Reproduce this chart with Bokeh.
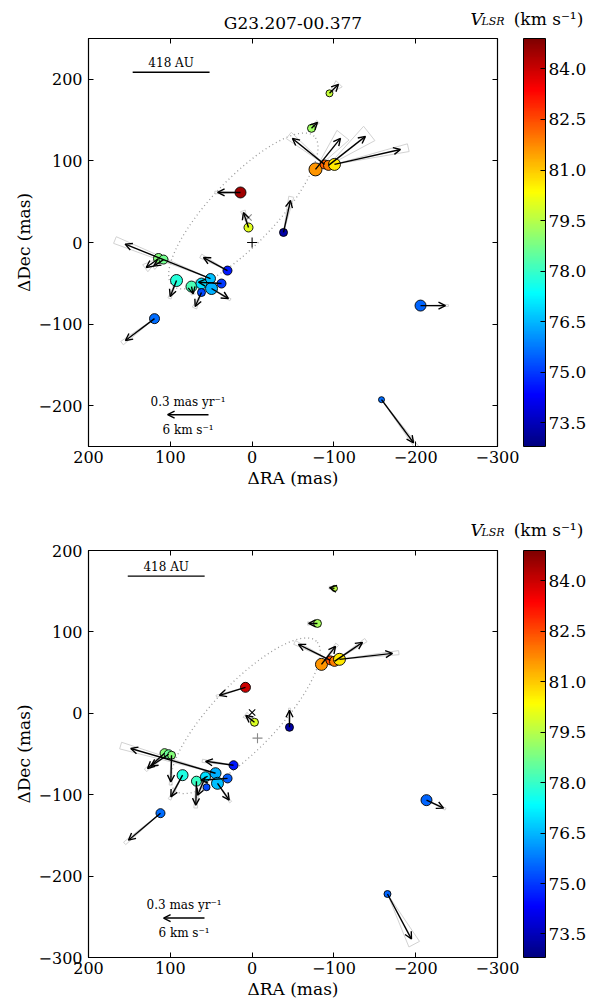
import numpy as np
from bokeh.plotting import figure
from bokeh.models import (ColumnDataSource, LinearColorMapper, ColorBar, FixedTicker,
                          LinearAxis, Arrow, OpenHead, Label, Range1d, PrintfTickFormatter)
from bokeh.layouts import column
from bokeh.transform import transform
from bokeh.embed import file_html
from bokeh.resources import INLINE

FONT = "DejaVu Serif"
TITLE = "G23.207-00.377"
VMIN, VMAX = 72.8, 84.9
CBAR_TICKS = [73.5, 75.0, 76.5, 78.0, 79.5, 81.0, 82.5, 84.0]
X_TICKS = [200, 100, 0, -100, -200, -300]
TOP_Y_TICKS = [200, 100, 0, -100, -200]
BOT_Y_TICKS = [200, 100, 0, -100, -200, -300]
PM_REF = 0.3           # mas/yr of the reference arrow
PM_REF_KMS = 6         # km/s equivalent
PM_SCALE = 50.0 / 0.3  # plot mas per (mas/yr)

# ---------------- top panel (epoch 1) ----------------
top_ra = [14.2, 4.4, -38.4, -94.6, -72.6, -77.5, -88.5, -93.4, -100.7, 114.4, 108.3,
          92.4, 74.1, 61.9, 50.9, 49.6, 37.4, 61.9, 30.1, 119.3, -205.9, -158.2]
top_dec = [61.3, 18.4, 12.3, 182.8, 139.9, 89.6, 95.7, 94.5, 95.7, -19.6, -20.9,
           -46.6, -54.0, -50.3, -44.2, -56.4, -50.3, -61.3, -34.4, -93.3, -77.3, -192.6]
top_vlsr = [84.5, 80.0, 73.3, 79.7, 79.2, 81.6, 82.3, 81.9, 80.6, 78.9, 78.7,
            77.8, 78.2, 77.0, 76.6, 76.4, 75.0, 75.2, 74.6, 75.6, 75.5, 75.6]
top_flux = [2.4, 1.6, 1.2, 0.8, 1.2, 3.2, 1.6, 2.0, 2.8, 2.0, 1.6,
            2.8, 2.4, 2.4, 2.0, 2.8, 1.6, 1.2, 1.6, 2.0, 2.4, 0.4]
top_pmra = [0.168, 0.037, -0.051, -0.066, -0.044, -0.183, 0.235, -0.271, -0.484, 0.090, 0.072,
            0.046, -0.012, None, 0.626, -0.124, 0.169, 0.046, 0.176, 0.213, -0.183, -0.235]
top_pmdec = [0.000, 0.110, 0.235, 0.066, 0.044, 0.228, 0.191, 0.213, 0.110, -0.066, -0.048,
             -0.118, -0.054, None, 0.253, -0.074, 0.010, -0.103, 0.096, -0.161, 0.000, -0.317]
top_pmerr = [3, 8, 4, 18, 12, 10, 5, 10, 3, 15, 15,
             5, 15, None, 2, 3, 5, 8, 4, 3, 2, 2]
top_ring = dict(ra=10.7, dec=38.6, a=126.0, b=40.0, pa=-43.4)
top_plus = (0.0, 0.0)
top_cross = (4.4, 30.7)

# ---------------- bottom panel (epoch 2) ----------------
bot_ra = [8.1, -2.9, -45.7, -100.7, -79.9, -84.8, -95.8, -100.7, -106.8, 107.0, 102.0, 98.5,
          85.0, 68.0, 57.0, 44.7, 42.3, 30.0, 55.7, 22.7, 112.0, -213.2, -165.5]
bot_dec = [31.9, -11.0, -17.2, 153.4, 110.4, 60.1, 65.0, 63.8, 66.3, -49.0, -50.3, -51.5,
           -76.0, -83.4, -78.0, -73.6, -86.0, -80.0, -90.8, -63.8, -122.7, -106.7, -222.0]
bot_vlsr = [84.0, 79.9, 73.3, 79.6, 79.3, 81.6, 82.4, 81.9, 80.6, 78.9, 78.6, 78.9,
            77.7, 78.0, 77.0, 76.4, 76.6, 75.4, 75.2, 74.6, 75.6, 75.5, 75.5]
bot_flux = [2.0, 1.2, 1.2, 0.4, 1.2, 2.8, 1.6, 2.0, 2.8, 1.6, 1.6, 1.2,
            2.4, 2.0, 2.0, 2.4, 2.8, 1.6, 0.8, 1.6, 1.6, 2.4, 0.8]
bot_pmra = [0.191, 0.064, 0.000, 0.036, 0.065, -0.103, 0.235, -0.206, -0.389, 0.125, 0.131, 0.005,
            0.086, 0.005, 0.058, 0.622, -0.086, 0.196, None, 0.205, 0.235, -0.125, -0.176]
bot_pmdec = [-0.059, 0.051, 0.126, 0.006, 0.000, 0.133, 0.118, 0.140, 0.044, -0.113, -0.088, -0.197,
             -0.160, -0.177, -0.136, 0.182, -0.124, -0.013, None, 0.029, -0.199, -0.059, -0.332]
bot_pmerr = [2, 15, 3, 15, 10, 4, 3, 3, 2, 4, 4, 3,
             3, 4, 4, 2, 3, 3, None, 3, 2, 3, 6]
bot_ring = dict(ra=8.0, dec=-3.0, a=126.0, b=40.0, pa=-43.4)
bot_plus = (-6.6, -30.5)
bot_cross = (0.0, 1.0)

# jet colormap
_t = np.linspace(0, 1, 256)
_r = np.clip(np.minimum(4 * _t - 1.5, -4 * _t + 4.5), 0, 1)
_g = np.clip(np.minimum(4 * _t - 0.5, -4 * _t + 3.5), 0, 1)
_b = np.clip(np.minimum(4 * _t + 0.5, -4 * _t + 2.5), 0, 1)
JET = ["#%02x%02x%02x" % (int(round(255 * r)), int(round(255 * g)), int(round(255 * b)))
       for r, g, b in zip(_r, _g, _b)]

MINUS = "\u2212"
W = 590
FRAME_L = 88
FRAME_W = 409


def fmt_overrides(ticks):
    return {t: (MINUS + str(abs(t)) if t < 0 else str(t)) for t in ticks}


def strip(height, items):
    """Header strip holding texts that sit outside the plot frames (screen-like coordinates)."""
    s = figure(width=W, height=height, x_range=Range1d(0, W), y_range=Range1d(height, 0),
               min_border=0, x_axis_location=None, y_axis_location=None, title=None,
               output_backend="svg", toolbar_location=None, tools="")
    s.frame_align = False
    s.outline_line_color = None
    s.xgrid.visible = False
    s.ygrid.visible = False
    for it in items:
        s.add_layout(Label(text_font=FONT, text_baseline="middle", text_color="black", **it))
    return s


def cbar_title(y):
    return [
        dict(x=470, y=y, text="V", text_align="left", text_font_size="17px", text_font_style="italic"),
        dict(x=481, y=y + 3, text="LSR", text_align="left", text_font_size="11px",
             text_font_style="italic"),
        dict(x=548, y=y, text="(km s\u207b\u00b9)", text_align="center", text_font_size="17px"),
    ]


def panel(ra, dec, vlsr, flux, pmra, pmdec, pmerr, ring, plus_pt, cross_pt, plus_col, cross_col,
          yr, yticks, btop, fh, bbot, au_bar, scale_pos):
    mapper = LinearColorMapper(palette=JET, low=VMIN, high=VMAX)
    p = figure(x_range=Range1d(200, -300), y_range=Range1d(*yr), frame_width=FRAME_W, frame_height=fh,
               min_border_left=FRAME_L, min_border_right=W - FRAME_L - FRAME_W,
               min_border_top=btop, min_border_bottom=bbot,
               output_backend="svg", toolbar_location=None, tools="", title=None)
    p.frame_align = False
    p.outline_line_color = "black"
    p.outline_line_width = 1.2
    p.xgrid.visible = False
    p.ygrid.visible = False

    p.xaxis.ticker = FixedTicker(ticks=X_TICKS)
    p.xaxis.major_label_overrides = fmt_overrides(X_TICKS)
    p.yaxis.ticker = FixedTicker(ticks=yticks)
    p.yaxis.major_label_overrides = fmt_overrides(yticks)
    for ax in (p.xaxis[0], p.yaxis[0]):
        ax.major_tick_in = 5
        ax.major_tick_out = 0
        ax.minor_tick_in = 0
        ax.minor_tick_out = 0
        ax.major_label_text_font = FONT
        ax.major_label_text_font_size = "16px"
        ax.major_label_text_color = "black"
        ax.axis_line_color = "black"
        ax.major_tick_line_color = "black"
        ax.axis_label_text_font = FONT
        ax.axis_label_text_font_size = "17px"
        ax.axis_label_text_font_style = "normal"
        ax.axis_label_text_color = "black"
    p.xaxis.major_label_standoff = 4
    p.xaxis.axis_label_standoff = 2
    p.yaxis.major_label_standoff = 6
    p.yaxis.axis_label_standoff = 2
    p.xaxis.axis_label = "\u0394RA (mas)"
    p.yaxis.axis_label = "\u0394Dec (mas)"

    top_ax = LinearAxis(ticker=FixedTicker(ticks=X_TICKS), major_label_overrides={t: "" for t in X_TICKS},
                        major_label_text_font_size="0px", major_label_standoff=0,
                        major_tick_in=5, major_tick_out=0, minor_tick_in=0, minor_tick_out=0,
                        axis_line_color=None)
    p.add_layout(top_ax, "above")
    right_ax = LinearAxis(ticker=FixedTicker(ticks=yticks), major_label_overrides={t: "" for t in yticks},
                          major_label_text_font_size="0px", major_label_standoff=0,
                          major_tick_in=5, major_tick_out=0, minor_tick_in=0, minor_tick_out=0,
                          axis_line_color=None)
    p.add_layout(right_ax, "right")
    # invisible spacer axis: leaves the gap between the frame and the colour bar
    spacer = LinearAxis(ticker=FixedTicker(ticks=yticks), major_label_overrides={t: "" for t in yticks},
                        major_label_text_font_size="0px", major_label_standoff=0,
                        major_tick_in=0, major_tick_out=26, minor_tick_in=0, minor_tick_out=0,
                        major_tick_line_alpha=0, axis_line_color=None)
    p.add_layout(spacer, "right")

    cb = ColorBar(color_mapper=mapper, ticker=FixedTicker(ticks=CBAR_TICKS),
                  formatter=PrintfTickFormatter(format="%.1f"),
                  width=22, height=fh, padding=0, margin=0, label_standoff=3,
                  major_tick_in=5, major_tick_out=0, major_tick_line_color="black",
                  minor_tick_line_color=None, bar_line_color="black",
                  major_label_text_font=FONT, major_label_text_font_size="17px",
                  major_label_text_color="black",
                  background_fill_alpha=0, border_line_color=None)
    p.add_layout(cb, "right")

    # ring model (dotted)
    th = np.linspace(0, 2 * np.pi, 240)
    pa = np.radians(ring["pa"])
    u = (np.sin(pa), np.cos(pa))
    v = (np.cos(pa), -np.sin(pa))
    ex = ring["ra"] + ring["a"] * np.cos(th) * u[0] + ring["b"] * np.sin(th) * v[0]
    ey = ring["dec"] + ring["a"] * np.cos(th) * u[1] + ring["b"] * np.sin(th) * v[1]
    p.line(ex, ey, line_color="#9a9a9a", line_width=1.3, line_dash="1 3")

    # uncertainty cones and arrows
    cx, cy, a0x, a0y, a1x, a1y = [], [], [], [], [], []
    for x, y, ux, uy, e in zip(ra, dec, pmra, pmdec, pmerr):
        if ux is None:
            continue
        dx, dy = ux * PM_SCALE, uy * PM_SCALE
        t = np.radians(e)
        pts = []
        for s in (1, -1):
            c, sn = np.cos(s * t), np.sin(s * t)
            pts.append((x + 1.12 * (c * dx - sn * dy), y + 1.12 * (sn * dx + c * dy)))
        cx.append([x, pts[0][0], pts[1][0], x])
        cy.append([y, pts[0][1], pts[1][1], y])
        a0x.append(x)
        a0y.append(y)
        a1x.append(x + dx)
        a1y.append(y + dy)
    p.multi_line(cx, cy, line_color="#d2d2d2", line_width=1.0)

    src = ColumnDataSource(dict(ra=ra, dec=dec, v=vlsr, size=[5 + 2.5 * f for f in flux]))
    p.scatter("ra", "dec", size="size", source=src, fill_color=transform("v", mapper),
              line_color="black", line_width=0.9)

    asrc = ColumnDataSource(dict(x0=a0x, y0=a0y, x1=a1x, y1=a1y))
    p.add_layout(Arrow(source=asrc, x_start="x0", y_start="y0", x_end="x1", y_end="y1",
                       line_color="black", line_width=1.4,
                       end=OpenHead(size=7, line_width=1.4, line_color="black")))

    p.scatter([plus_pt[0]], [plus_pt[1]], marker="cross", size=10, line_color=plus_col, line_width=1.1)
    p.scatter([cross_pt[0]], [cross_pt[1]], marker="x", size=9, line_color=cross_col, line_width=1.1)

    # 418 AU scale bar
    x0b, x1b, yb = au_bar
    p.line([x0b, x1b], [yb, yb], line_color="black", line_width=1.4)
    p.add_layout(Label(x=(x0b + x1b) / 2, y=yb, y_offset=9, text="418 AU", text_align="center",
                       text_baseline="middle", text_font=FONT, text_font_size="12px",
                       text_color="black"))

    # proper motion reference arrow
    sx, sy = scale_pos
    p.add_layout(Arrow(x_start=sx, y_start=sy, x_end=sx + PM_REF * PM_SCALE, y_end=sy,
                       line_color="black", line_width=1.4,
                       end=OpenHead(size=7, line_width=1.4, line_color="black")))
    xm = sx + PM_REF * PM_SCALE / 2
    p.add_layout(Label(x=xm, y=sy, y_offset=13, text="%.1f mas yr\u207b\u00b9" % PM_REF,
                       text_align="center", text_baseline="middle", text_font=FONT,
                       text_font_size="12px", text_color="black"))
    p.add_layout(Label(x=xm, y=sy, y_offset=-15, text="%d km s\u207b\u00b9" % PM_REF_KMS,
                       text_align="center", text_baseline="middle", text_font=FONT,
                       text_font_size="12px", text_color="black"))
    return p


s1 = strip(34, [dict(x=FRAME_L + FRAME_W / 2, y=22, text=TITLE, text_align="center",
                     text_font_size="17px")] + cbar_title(18))
p1 = panel(top_ra, top_dec, top_vlsr, top_flux, top_pmra, top_pmdec, top_pmerr, top_ring,
           top_plus, top_cross, "black", "#8a8a8a", (-250, 250), TOP_Y_TICKS,
           4, 408, 54, (146, 52, 208.6), (53.3, -211.0))
s2 = strip(40, cbar_title(29))
p2 = panel(bot_ra, bot_dec, bot_vlsr, bot_flux, bot_pmra, bot_pmdec, bot_pmerr, bot_ring,
           bot_plus, bot_cross, "#8a8a8a", "black", (-300, 200), BOT_Y_TICKS,
           10, 407, 45, (152, 58, 168.5), (58.2, -251.5))

layout = column(s1, p1, s2, p2, spacing=0)
open("out.html", "w").write(file_html(layout, INLINE))
